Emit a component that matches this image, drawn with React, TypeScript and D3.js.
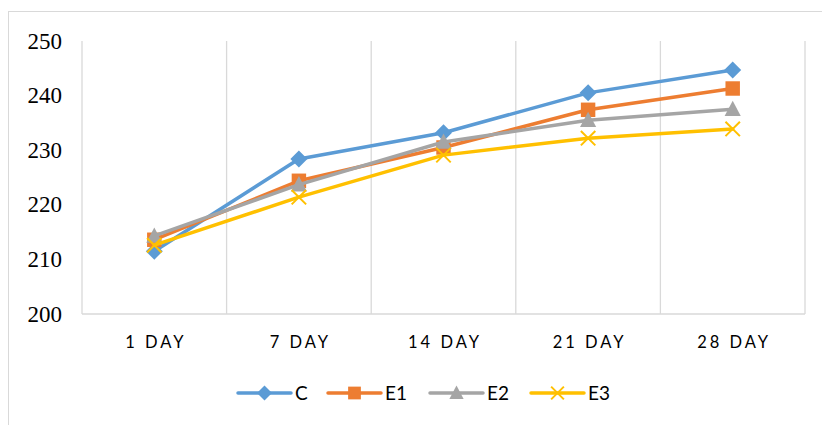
import React, { useEffect, useRef } from "react";
import * as d3 from "d3";

const categories = ["1 DAY", "7 DAY", "14 DAY", "21 DAY", "28 DAY"];
const seriesNames = ["C", "E1", "E2", "E3"];
const cValues = [211.5, 228.4, 233.2, 240.5, 244.7];
const e1Values = [213.6, 224.4, 230.5, 237.4, 241.3];
const e2Values = [214.3, 223.7, 231.5, 235.5, 237.5];
const e3Values = [212.6, 221.4, 229.1, 232.2, 233.9];
const yTicks = [200, 210, 220, 230, 240, 250];
const colors = ["#5B9BD5", "#ED7D31", "#A5A5A5", "#FFC000"];
const markers = ["diamond", "square", "triangle", "cross"];

export default function App() {
  const ref = useRef<SVGSVGElement>(null);
  useEffect(() => {
    const svg = d3.select(ref.current);
    svg.selectAll("*").remove();
    const left = 82, right = 805, top = 41, bottom = 314;
    const x = d3.scaleBand<string>().domain(categories).range([left, right]);
    const y = d3.scaleLinear().domain([200, 250]).range([bottom, top]);

    svg.append("rect").attr("x", 8.5).attr("y", 11.5).attr("width", 840).attr("height", 440)
      .attr("fill", "#fff").attr("stroke", "#d9d9d9").attr("stroke-width", 1);

    const bounds = categories.map((c) => x(c)!).concat([right]);
    svg.append("g").selectAll("line").data(bounds).join("line")
      .attr("x1", (d) => d).attr("x2", (d) => d).attr("y1", top).attr("y2", bottom)
      .attr("stroke", "#d9d9d9").attr("stroke-width", 1.3);
    svg.append("line").attr("x1", left).attr("x2", right).attr("y1", bottom).attr("y2", bottom)
      .attr("stroke", "#d9d9d9").attr("stroke-width", 1.3);

    svg.append("g").selectAll("text").data(yTicks).join("text")
      .attr("x", 62).attr("y", (d) => y(d)).attr("dy", "0.33em").attr("text-anchor", "end")
      .style("font-family", "'Liberation Serif', 'Times New Roman', serif").style("font-size", "23px")
      .attr("fill", "#000").text((d) => d);

    svg.append("g").selectAll("text").data(categories).join("text")
      .attr("x", (d) => x(d)! + x.bandwidth() / 2 + 1.5).attr("y", 348).attr("text-anchor", "middle")
      .style("font-family", "Lato, 'Noto Sans', sans-serif").style("font-size", "16.5px")
      .style("letter-spacing", "3px").attr("fill", "#000").text((d) => d);

    const allValues = [cValues, e1Values, e2Values, e3Values];
    const line = d3.line<number>()
      .x((_, i) => x(categories[i])! + x.bandwidth() / 2)
      .y((d) => y(d));

    const drawMarker = (g: any, kind: string, cx: number, cy: number, color: string, s: number) => {
      if (kind === "diamond") {
        g.append("path").attr("d", `M${cx},${cy - s}L${cx + s},${cy}L${cx},${cy + s}L${cx - s},${cy}Z`).attr("fill", color);
      } else if (kind === "square") {
        const h = s * 0.85;
        g.append("rect").attr("x", cx - h).attr("y", cy - h).attr("width", h * 2).attr("height", h * 2).attr("fill", color);
      } else if (kind === "triangle") {
        g.append("path").attr("d", `M${cx},${cy - s}L${cx + s * 0.95},${cy + s * 0.8}L${cx - s * 0.95},${cy + s * 0.8}Z`).attr("fill", color);
      } else {
        const r = s * 0.85;
        g.append("path").attr("d", `M${cx - r},${cy - r}L${cx + r},${cy + r}M${cx - r},${cy + r}L${cx + r},${cy - r}`)
          .attr("stroke", color).attr("stroke-width", 2).attr("fill", "none");
      }
    };

    allValues.forEach((vals, si) => {
      const g = svg.append("g");
      g.append("path").datum(vals).attr("d", line).attr("fill", "none")
        .attr("stroke", colors[si]).attr("stroke-width", 3.5).attr("stroke-linejoin", "round").attr("stroke-linecap", "round");
      vals.forEach((v, i) => {
        drawMarker(g, markers[si], x(categories[i])! + x.bandwidth() / 2, y(v), colors[si], 8.5);
      });
    });

    const legendX = [238, 328, 430, 531];
    const ly = 393;
    seriesNames.forEach((name, si) => {
      const g = svg.append("g");
      const x0 = legendX[si];
      g.append("line").attr("x1", x0).attr("x2", x0 + 53).attr("y1", ly).attr("y2", ly)
        .attr("stroke", colors[si]).attr("stroke-width", 3.5).attr("stroke-linecap", "round");
      drawMarker(g, markers[si], x0 + 26.5, ly, colors[si], 7.5);
      g.append("text").attr("x", x0 + 57).attr("y", ly).attr("dy", "0.36em")
        .style("font-family", "Lato, 'Noto Sans', sans-serif").style("font-size", "19px").attr("fill", "#000").text(name);
    });
  }, []);
  return (
    <svg ref={ref} width={822} height={425} style={{ position: "absolute", left: 0, top: 0, background: "#fff" }} />
  );
}
